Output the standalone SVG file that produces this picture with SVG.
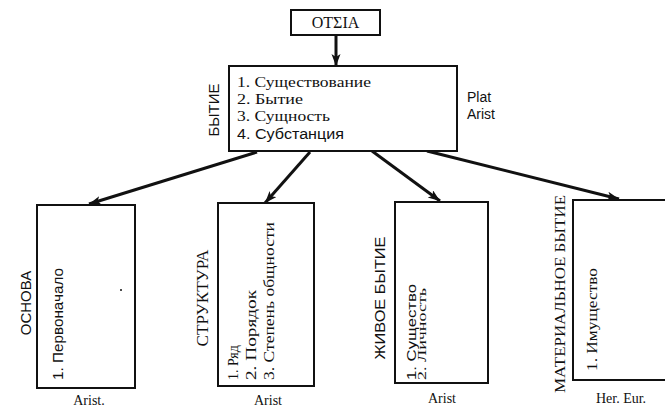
<svg xmlns="http://www.w3.org/2000/svg" width="665" height="407" viewBox="0 0 665 407">
<style>
.box{fill:#fff;stroke:#111;stroke-width:2}
.serif{font-family:"Liberation Serif","DejaVu Serif",serif;fill:#111}
.sans{font-family:"Liberation Sans","DejaVu Sans",sans-serif;fill:#111}
.conn{stroke:#111;stroke-width:3;fill:none;marker-end:url(#ah)}
</style>
<defs>
<marker id="ah" markerWidth="13" markerHeight="10" refX="12" refY="4.5" orient="auto" markerUnits="userSpaceOnUse">
<path d="M0,0 L12,4.5 L0,9 L3,4.5 Z" fill="#111"/>
</marker>
</defs>
<rect width="665" height="407" fill="#fff"/>
<g id="connectors">
<line class="conn" x1="336" y1="35" x2="336" y2="66"/>
<line class="conn" x1="257" y1="152" x2="89" y2="204"/>
<line class="conn" x1="310" y1="152" x2="265" y2="203"/>
<line class="conn" x1="372" y1="151" x2="440" y2="201"/>
<line class="conn" x1="427" y1="151" x2="619" y2="199"/>
</g>
<g id="ousia">
<rect class="box" x="291" y="10" width="89" height="25"/>
<text class="serif" x="335.5" y="28" font-size="16" text-anchor="middle">ΟΤΣΙΑ</text>
</g>
<g id="byt">
<rect class="box" x="229" y="66" width="228" height="85"/>
<text class="serif" x="237" y="87" font-size="14" textLength="134" lengthAdjust="spacingAndGlyphs">1. Существование</text>
<text class="serif" x="237" y="104" font-size="14" textLength="66" lengthAdjust="spacingAndGlyphs">2. Бытие</text>
<text class="serif" x="237" y="121" font-size="14" textLength="93" lengthAdjust="spacingAndGlyphs">3. Сущность</text>
<text class="sans" x="237" y="139" font-size="14" textLength="107" lengthAdjust="spacingAndGlyphs">4. Субстанция</text>
<text class="sans" transform="translate(219,110) rotate(-90)" font-size="15" text-anchor="middle">БЫТИЕ</text>
<text class="sans" x="467" y="102" font-size="14">Plat</text>
<text class="sans" x="467" y="119" font-size="14">Arist</text>
</g>
<g id="osnova">
<rect class="box" x="37" y="205" width="98" height="183"/>
<text class="sans" transform="translate(31,303) rotate(-90)" font-size="15" text-anchor="middle">ОСНОВА</text>
<text class="sans" transform="translate(63,380) rotate(-90)" font-size="14" textLength="112" lengthAdjust="spacingAndGlyphs">1. Первоначало</text>
<circle cx="121" cy="290" r="1" fill="#111"/>
<text class="serif" x="89" y="405" font-size="14" text-anchor="middle">Arist.</text>
</g>
<g id="struktura">
<rect class="box" x="218" y="203" width="96" height="183"/>
<text class="serif" transform="translate(208,298) rotate(-90)" font-size="16" text-anchor="middle" textLength="97" lengthAdjust="spacingAndGlyphs">СТРУКТУРА</text>
<text class="serif" transform="translate(238,380) rotate(-90)" font-size="14">1. Ряд</text>
<text class="serif" transform="translate(256,380) rotate(-90)" font-size="14" textLength="90" lengthAdjust="spacingAndGlyphs">2. Порядок</text>
<text class="serif" transform="translate(274,380) rotate(-90)" font-size="14" textLength="158" lengthAdjust="spacingAndGlyphs">3. Степень общности</text>
<text class="serif" x="268" y="405" font-size="14" text-anchor="middle">Arist</text>
</g>
<g id="zhivoe">
<rect class="box" x="395" y="202" width="93" height="181"/>
<text class="sans" transform="translate(385,298) rotate(-90)" font-size="15" text-anchor="middle" textLength="123" lengthAdjust="spacingAndGlyphs">ЖИВОЕ  БЫТИЕ</text>
<text class="sans" transform="translate(416,380) rotate(-90)" font-size="13" textLength="96" lengthAdjust="spacingAndGlyphs">1. Существо</text>
<text class="serif" transform="translate(426,380) rotate(-90)" font-size="12" textLength="92" lengthAdjust="spacingAndGlyphs">2. Личность</text>
<text class="serif" x="442" y="403" font-size="14" text-anchor="middle">Arist</text>
</g>
<g id="materialnoe">
<rect class="box" x="573" y="200" width="100" height="180"/>
<text class="serif" transform="translate(565,294) rotate(-90)" font-size="14" text-anchor="middle" textLength="198" lengthAdjust="spacingAndGlyphs">МАТЕРИАЛЬНОЕ БЫТИЕ</text>
<text class="serif" transform="translate(597,371) rotate(-90)" font-size="14" textLength="103" lengthAdjust="spacingAndGlyphs">1. Имущество</text>
<text class="serif" x="621" y="403" font-size="14" text-anchor="middle">Her. Eur.</text>
</g>
</svg>
